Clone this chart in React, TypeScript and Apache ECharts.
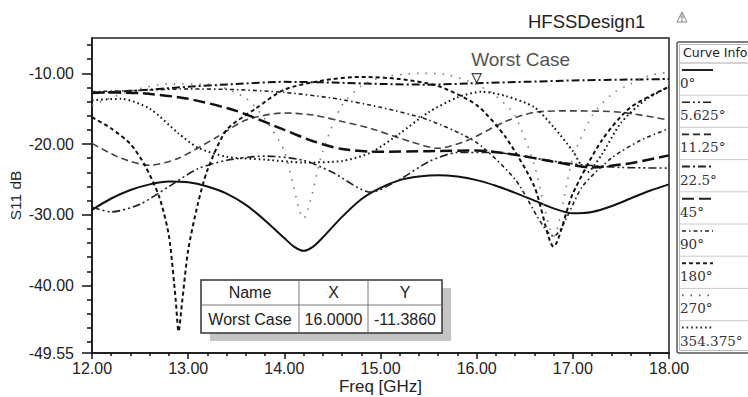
import React, { useEffect, useRef } from "react";
import * as echarts from "echarts";

// ---------- data ----------
const curveNames = ["0°", "5.625°", "11.25°", "22.5°", "45°", "90°", "180°", "270°", "354.375°"];

const s0: number[][] = [[12,-29.3],[12.2,-27.7],[12.4,-26.5],[12.6,-25.7],[12.8,-25.3],[13.0,-25.4],[13.2,-26.0],[13.4,-27.0],[13.6,-28.6],[13.8,-30.8],[14.0,-33.3],[14.1,-34.5],[14.2,-35.1],[14.3,-34.5],[14.4,-33.2],[14.6,-30.3],[14.8,-27.8],[15.0,-26.2],[15.2,-25.1],[15.4,-24.6],[15.6,-24.4],[15.8,-24.6],[16.0,-25.1],[16.2,-25.9],[16.4,-26.9],[16.6,-28.0],[16.8,-29.1],[17.0,-29.8],[17.2,-29.6],[17.4,-28.8],[17.6,-27.7],[17.8,-26.6],[18,-25.7]];
const s5625: number[][] = [[12,-28.9],[12.2,-29.6],[12.5,-28.5],[12.8,-26.0],[13.1,-23.5],[13.4,-22.3],[13.8,-21.7],[14.2,-22.3],[14.5,-24.0],[14.9,-26.8],[15.2,-25.0],[15.5,-22.5],[15.8,-21.2],[16.2,-21.2],[16.6,-22.0],[17.0,-22.8],[17.5,-23.3],[18,-23.4]];
const s1125: number[][] = [[12,-19.9],[12.3,-22.0],[12.6,-23.0],[12.9,-22.0],[13.3,-19.0],[13.6,-16.6],[14.0,-15.6],[14.3,-15.9],[14.6,-16.8],[14.9,-17.8],[15.3,-19.6],[15.6,-20.6],[15.9,-19.5],[16.3,-16.8],[16.6,-15.5],[17.0,-15.3],[17.5,-15.5],[18,-16.6]];
const s225: number[][] = [[12,-12.8],[12.5,-12.4],[13,-11.9],[13.5,-11.5],[14,-11.2],[14.5,-11.3],[15,-11.5],[15.5,-11.6],[16,-11.386],[16.5,-11.2],[17,-11.0],[17.5,-10.9],[18,-10.8]];
const s45: number[][] = [[12,-12.7],[12.5,-12.8],[13,-13.6],[13.5,-15.3],[14,-18.0],[14.3,-19.6],[14.6,-20.7],[15,-21.1],[15.5,-21.0],[16.0,-20.9],[16.4,-21.5],[16.8,-22.5],[17.2,-23.3],[17.6,-22.7],[18,-21.6]];
const s90: number[][] = [[12,-12.6],[12.5,-12.4],[13,-12.2],[13.5,-12.3],[14,-12.7],[14.5,-13.5],[15,-14.8],[15.5,-16.6],[16,-19.8],[16.4,-25.0],[16.8,-33.0],[17.1,-26.0],[17.4,-22.0],[17.7,-19.5],[18,-17.8]];
const s180: number[][] = [[12,-16.2],[12.2,-17.8],[12.4,-20.0],[12.55,-23.0],[12.7,-27.5],[12.8,-33.0],[12.87,-42.0],[12.9,-46.5],[12.94,-42.0],[13.0,-35.0],[13.1,-28.5],[13.2,-23.7],[13.4,-18.0],[13.7,-15.0],[14.0,-12.3],[14.4,-11.0],[14.8,-10.5],[15.2,-10.8],[15.6,-11.8],[16.0,-14.5],[16.3,-19.0],[16.6,-26.0],[16.8,-34.5],[17.0,-27.0],[17.3,-19.5],[17.6,-14.8],[18,-11.9]];
const s270: number[][] = [[12,-14.5],[12.4,-12.5],[12.8,-11.5],[13.2,-11.5],[13.6,-13.5],[13.8,-16.5],[14.0,-21.0],[14.2,-30.5],[14.4,-21.0],[14.6,-14.5],[14.8,-11.8],[15.0,-10.6],[15.4,-10.0],[15.7,-10.2],[16.0,-11.6],[16.2,-13.2],[16.4,-16.0],[16.6,-23.0],[16.8,-33.0],[17.0,-22.0],[17.2,-16.0],[17.4,-13.0],[17.6,-11.5],[17.8,-10.3],[18,-9.8]];
const s354: number[][] = [[12,-13.8],[12.3,-13.6],[12.6,-15.0],[12.9,-18.5],[13.1,-20.5],[13.4,-21.8],[13.8,-22.2],[14.2,-22.6],[14.6,-22.4],[14.9,-21.2],[15.2,-18.5],[15.5,-15.5],[15.8,-13.4],[16.05,-12.6],[16.3,-13.2],[16.6,-14.8],[16.8,-17.6],[17.0,-21.0],[17.15,-24.0],[17.3,-21.5],[17.5,-17.0],[17.75,-13.8],[18,-11.9]];

const curveData = [s0, s5625, s1125, s225, s45, s90, s180, s270, s354];

const markerName = "Worst Case";
const markerX = 16.0;
const markerY = -11.386;

const yMajorTicks = [-49.55, -40, -30, -20, -10];
const yMinorTicks = [-48, -46, -44, -42, -38, -36, -34, -32, -28, -26, -24, -22, -18, -16, -14, -12, -8, -6];

// ---------- styles ----------
const styles = [
  { type: "solid", width: 2, color: "#111" },
  { type: [8, 3, 2, 3, 2, 3], width: 1.6, color: "#222" },
  { type: [7, 4], width: 1.6, color: "#444" },
  { type: [8, 3, 2, 3], width: 2, color: "#111" },
  { type: [12, 5], width: 2.5, color: "#111" },
  { type: [4, 3, 1.5, 3], width: 1.6, color: "#222" },
  { type: [4, 3], width: 2, color: "#111" },
  { type: [1.5, 7], width: 1.6, color: "#777" },
  { type: [1.6, 3], width: 2, color: "#111" },
];

const FONT = "Liberation Sans, Arial, sans-serif";

export default function App() {
  const ref = useRef<HTMLDivElement>(null);
  useEffect(() => {
    if (!ref.current) return;
    const chart = echarts.init(ref.current, undefined, { renderer: "svg" });

    const series: any[] = curveData.map((d, i) => ({
      type: "line",
      name: curveNames[i],
      data: d,
      showSymbol: false,
      smooth: 0.25,
      lineStyle: { type: styles[i].type, width: styles[i].width, color: styles[i].color },
      z: 3,
    }));
    series.push({
      type: "scatter",
      data: [[markerX, markerY]],
      symbol: "triangle",
      symbolRotate: 180,
      symbolSize: 9,
      symbolOffset: [0, -5],
      itemStyle: { color: "#fff", borderColor: "#111", borderWidth: 1.2 },
      label: {
        show: true,
        formatter: markerName,
        position: "top",
        distance: 4,
        offset: [44, 0],
        fontSize: 19,
        fontFamily: FONT,
        color: "#222",
      },
      z: 5,
    });

    // legend (Curve Info) built from curve names
    const legendTop = 63;
    const rowH = 32.2;
    const legendEls: any[] = [
      { type: "rect", shape: { x: 677, y: 42, width: 90, height: 311, r: 2 }, style: { fill: "#fff", stroke: "#555", lineWidth: 1.5 } },
      { type: "rect", shape: { x: 679.5, y: 44.5, width: 90, height: 306 }, style: { fill: "none", stroke: "#bbb", lineWidth: 1 } },
      { type: "text", x: 683, y: 52, style: { text: "Curve Info", font: "12.5px DejaVu Sans", fill: "#222", verticalAlign: "middle" } },
      { type: "line", shape: { x1: 680, y1: legendTop, x2: 748, y2: legendTop }, style: { stroke: "#aaa", lineWidth: 1 } },
    ];
    curveNames.forEach((n, i) => {
      const top = legendTop + i * rowH;
      const st = styles[i];
      legendEls.push({
        type: "line",
        shape: { x1: 682, y1: top + 7, x2: 713, y2: top + 7 },
        style: { stroke: i === 7 ? "#555" : "#222", lineWidth: Math.min(st.width, 2), lineDash: st.type === "solid" ? null : st.type },
      });
      legendEls.push({
        type: "text", x: 680, y: top + 20,
        style: { text: n, font: "13.5px DejaVu Serif", fill: "#333", verticalAlign: "middle" },
      });
      if (i < curveNames.length - 1) {
        legendEls.push({ type: "line", shape: { x1: 680, y1: top + rowH, x2: 748, y2: top + rowH }, style: { stroke: "#ccc", lineWidth: 1 } });
      }
    });

    // marker table
    const tX = 201, tY = 280, tW = 241, tH = 53;
    const c1 = 299, c2 = 368, rMid = 305;
    const tableEls: any[] = [
      { type: "rect", shape: { x: tX + 9, y: tY + 8, width: tW, height: tH }, style: { fill: "#c4c4c4" } },
      { type: "rect", shape: { x: tX, y: tY, width: tW, height: tH }, style: { fill: "#fff", stroke: "#333", lineWidth: 1.5 } },
      { type: "line", shape: { x1: tX, y1: rMid, x2: tX + tW, y2: rMid }, style: { stroke: "#777", lineWidth: 1 } },
      { type: "line", shape: { x1: c1, y1: tY, x2: c1, y2: tY + tH }, style: { stroke: "#777", lineWidth: 1 } },
      { type: "line", shape: { x1: c2, y1: tY, x2: c2, y2: tY + tH }, style: { stroke: "#777", lineWidth: 1 } },
    ];
    const cells = [
      ["Name", (tX + c1) / 2, (tY + rMid) / 2],
      ["X", (c1 + c2) / 2, (tY + rMid) / 2],
      ["Y", (c2 + tX + tW) / 2, (tY + rMid) / 2],
      [markerName, (tX + c1) / 2, (rMid + tY + tH) / 2],
      [markerX.toFixed(4), (c1 + c2) / 2, (rMid + tY + tH) / 2],
      [markerY.toFixed(4), (c2 + tX + tW) / 2, (rMid + tY + tH) / 2],
    ];
    cells.forEach(([t, x, y]) => {
      tableEls.push({ type: "text", x, y, style: { text: t, font: `16px ${FONT}`, fill: "#222", align: "center", verticalAlign: "middle" } });
    });

    chart.setOption({
      animation: false,
      backgroundColor: "#fff",
      title: {
        text: "HFSSDesign1",
        left: 523,
        top: 7,
        textStyle: { fontSize: 18.5, fontWeight: "normal", fontFamily: FONT, color: "#222" },
      },
      grid: { left: 92, right: 79, top: 38, bottom: 44, show: true, borderColor: "#222", borderWidth: 1.5, backgroundColor: "#fff", outerBoundsMode: "none", containLabel: false },
      xAxis: {
        type: "value",
        min: 12,
        max: 18,
        interval: 1,
        name: "Freq [GHz]",
        nameLocation: "middle",
        nameGap: 25,
        nameMoveOverlap: false,
        nameTextStyle: { fontSize: 17, fontFamily: FONT, color: "#222" },
        axisLine: { lineStyle: { color: "#111", width: 1.5 } },
        axisTick: { show: true, length: 6, lineStyle: { color: "#111", width: 1.5 } },
        minorTick: { show: true, splitNumber: 5, length: 3, lineStyle: { color: "#111", width: 1.5 } },
        axisLabel: { fontSize: 16, fontFamily: FONT, color: "#222", margin: 7, formatter: (v: number) => v.toFixed(2) },
        splitLine: { show: false },
      },
      yAxis: [
        {
          type: "value",
          min: -49.55,
          max: -5,
          name: "S11 dB",
          nameLocation: "middle",
          nameGap: 69,
          nameMoveOverlap: false,
          nameTextStyle: { fontSize: 15.5, fontFamily: FONT, color: "#222" },
          axisLine: { lineStyle: { color: "#111", width: 1.5 } },
          axisTick: { show: true, length: 10, customValues: yMajorTicks, lineStyle: { color: "#111", width: 1.5 } },
          axisLabel: { fontSize: 16, fontFamily: FONT, color: "#222", margin: 18, customValues: yMajorTicks, formatter: (v: number) => v.toFixed(2) },
          splitLine: { show: false },
        },
        {
          type: "value",
          min: -49.55,
          max: -5,
          position: "left",
          axisLine: { show: false },
          axisTick: { show: true, length: 5, customValues: yMinorTicks, lineStyle: { color: "#111", width: 1.5 } },
          axisLabel: { show: false },
          splitLine: { show: false },
        },
      ],
      series,
      graphic: [
        { type: "group", children: legendEls },
        { type: "group", children: tableEls },
        {
          type: "group",
          children: [
            { type: "polygon", shape: { points: [[682, 12], [677, 22], [687, 22]] }, style: { fill: "none", stroke: "#888", lineWidth: 1 } },
            { type: "line", shape: { x1: 682, y1: 12, x2: 682, y2: 22 }, style: { stroke: "#888", lineWidth: 1 } },
            { type: "line", shape: { x1: 680, y1: 17, x2: 684, y2: 17 }, style: { stroke: "#999", lineWidth: 1 } },
          ],
        },
      ],
    });
    return () => chart.dispose();
  }, []);
  return <div ref={ref} style={{ width: 748, height: 397, position: "absolute", left: 0, top: 0 }} />;
}
